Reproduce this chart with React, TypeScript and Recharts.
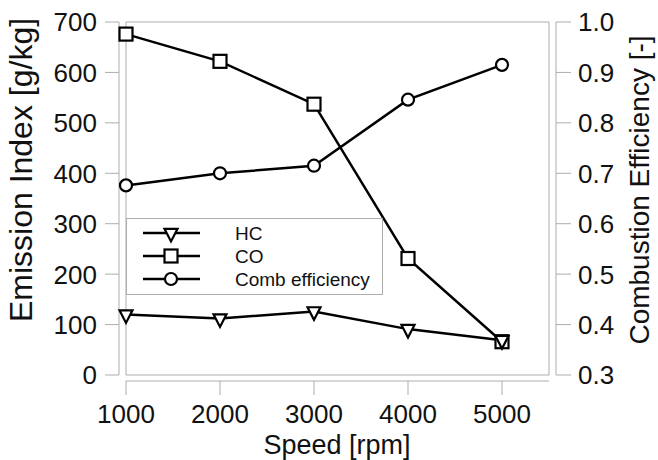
import React from "react";
import { LineChart, Line, XAxis, YAxis, ReferenceArea, Legend, Label } from "recharts";

const speeds = [1000, 2000, 3000, 4000, 5000];
const hcValues = [120, 112, 126, 91, 69];
const coValues = [676, 622, 537, 231, 66];
const combEfficiency = [0.676, 0.7, 0.715, 0.846, 0.915];

const speedTicks = [1000, 2000, 3000, 4000, 5000];
const emissionTicks = [0, 100, 200, 300, 400, 500, 600, 700];
const efficiencyTicks = [0.3, 0.4, 0.5, 0.6, 0.7, 0.8, 0.9, 1.0];

const legendItems = [
  { key: "hc", label: "HC" },
  { key: "co", label: "CO" },
  { key: "eff", label: "Comb efficiency" },
];

const data = speeds.map((speed, i) => ({
  speed,
  hc: hcValues[i],
  co: coValues[i],
  eff: combEfficiency[i],
}));

const FONT = '"Liberation Sans", Arial, Helvetica, sans-serif';
const AXIS = "#adadad";
const INK = "#111";

function marker(kind: string, cx: number, cy: number, key?: string | number) {
  if (cx == null || cy == null) return <g key={key} />;
  if (kind === "hc") {
    return (
      <path key={key} d={`M${cx - 6.5},${cy - 4.2}L${cx + 6.5},${cy - 4.2}L${cx},${cy + 8.4}Z`}
        fill="#fff" stroke="#000" strokeWidth={2.2} strokeLinejoin="miter" />
    );
  }
  if (kind === "co") {
    return <rect key={key} x={cx - 6.5} y={cy - 6.5} width={13} height={13} fill="#fff" stroke="#000" strokeWidth={2.2} />;
  }
  return <circle key={key} cx={cx} cy={cy} r={6} fill="#fff" stroke="#000" strokeWidth={2.2} />;
}

const LeftTick = ({ x, y, payload }: any) => (
  <g>
    <line x1={x - 7} x2={x - 21} y1={y} y2={y} stroke={AXIS} />
    <text x={x - 29} y={y} dy="0.36em" textAnchor="end" fontSize={26} fontFamily={FONT} fill={INK}>
      {payload.value}
    </text>
  </g>
);

const RightTick = ({ x, y, payload }: any) => (
  <g>
    <line x1={x + 7} x2={x + 22} y1={y} y2={y} stroke={AXIS} />
    <text x={x + 29} y={y} dy="0.36em" textAnchor="start" fontSize={26} fontFamily={FONT} fill={INK}>
      {Number(payload.value).toFixed(1)}
    </text>
  </g>
);

const BottomTick = ({ x, y, payload }: any) => (
  <g>
    <line x1={x} x2={x} y1={y + 6} y2={y + 20} stroke={AXIS} />
    <text x={x} y={y + 48} textAnchor="middle" fontSize={26} fontFamily={FONT} fill={INK}>
      {payload.value}
    </text>
  </g>
);

const LegendBox = () => (
  <div style={{ width: 257, height: 77, border: `1px solid ${AXIS}`, background: "#fff", boxSizing: "border-box" }}>
    <svg width={255} height={75}>
      {legendItems.map((item, i) => {
        const cy = 14 + i * 23;
        return (
          <g key={item.key}>
            <line x1={16} x2={73} y1={cy} y2={cy} stroke="#000" strokeWidth={2.5} />
            {marker(item.key, 44, cy)}
            <text x={108} y={cy} dy="0.36em" fontSize={19} fontFamily={FONT} fill={INK}>
              {item.label}
            </text>
          </g>
        );
      })}
    </svg>
  </div>
);

export default function App() {
  return (
    <div style={{ position: "absolute", left: 0, top: 0, width: 658, height: 460, background: "#fff" }}>
      <LineChart width={658} height={460} data={data} margin={{ top: 22, right: 0, bottom: 0, left: 0 }}>
        <XAxis
          dataKey="speed" type="number" domain={[1000, 5500]} ticks={speedTicks} interval={0}
          height={85} tickSize={0} tickMargin={0} tickLine={false}
          axisLine={{ stroke: AXIS, transform: "translate(0,6)" }} tick={BottomTick}
        >
          <Label content={() => (
            <text x={337} y={454} textAnchor="middle" fontSize={27} fontFamily={FONT} fill={INK}>Speed [rpm]</text>
          )} />
        </XAxis>
        <YAxis
          yAxisId="left" domain={[0, 700]} ticks={emissionTicks} interval={0} width={126}
          tickSize={0} tickMargin={0} tickLine={false}
          axisLine={{ stroke: AXIS, transform: "translate(-7,0)" }} tick={LeftTick}
        >
          <Label content={() => (
            <text transform="translate(32,170) rotate(-90)" textAnchor="middle" fontSize={32} fontFamily={FONT} fill={INK}>
              Emission Index [g/kg]
            </text>
          )} />
        </YAxis>
        <YAxis
          yAxisId="right" orientation="right" domain={[0.3, 1.0]} ticks={efficiencyTicks} interval={0} width={109}
          tickSize={0} tickMargin={0} tickLine={false}
          axisLine={{ stroke: AXIS, transform: "translate(7,0)" }} tick={RightTick}
        >
          <Label content={() => (
            <text transform="translate(649,190) rotate(-90)" textAnchor="middle" fontSize={28} fontFamily={FONT} fill={INK}>
              Combustion Efficiency [-]
            </text>
          )} />
        </YAxis>
        <ReferenceArea yAxisId="left" x1={1000} x2={5500} y1={0} y2={700} fill="none" stroke={AXIS} ifOverflow="visible" />
        <Legend
          layout="horizontal" verticalAlign="middle" align="center" content={LegendBox}
          wrapperStyle={{ position: "absolute", left: 126, top: 218, width: 257, height: 77 }}
        />
        <Line yAxisId="left" dataKey="co" stroke="#000" strokeWidth={2.5} isAnimationActive={false} legendType="none"
          dot={(p: any) => marker("co", p.cx, p.cy, p.index)} />
        <Line yAxisId="left" dataKey="hc" stroke="#000" strokeWidth={2.5} isAnimationActive={false} legendType="none"
          dot={(p: any) => marker("hc", p.cx, p.cy, p.index)} />
        <Line yAxisId="right" dataKey="eff" stroke="#000" strokeWidth={2.5} isAnimationActive={false} legendType="none"
          dot={(p: any) => marker("eff", p.cx, p.cy, p.index)} />
      </LineChart>
    </div>
  );
}
